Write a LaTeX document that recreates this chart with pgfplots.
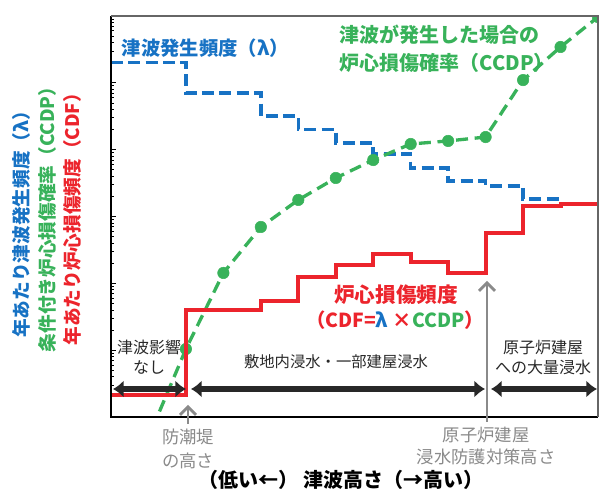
\documentclass[border=0pt]{standalone}
\usepackage{pgfplots}
\pgfplotsset{compat=1.18}
\usepackage{pgfplotstable}
\usepackage{fontspec}
\setmainfont{Noto Sans CJK JP}
\usetikzlibrary{arrows.meta}

\definecolor{lamblue}{RGB}{23,114,196}
\definecolor{ccdpgreen}{RGB}{56,178,90}
\definecolor{cdfred}{RGB}{236,36,44}
\definecolor{annodark}{RGB}{40,40,40}
\definecolor{annogray}{RGB}{138,138,138}

% tsunami frequency (lambda), stepwise per height bin
\pgfplotstableread{
x y
0  2.0e-1
2  7.0e-2
4  3.2e-2
5  2.0e-2
6  1.26e-2
7  8.6e-3
8  5.3e-3
9  3.4e-3
10 2.86e-3
11 1.83e-3
12 1.83e-3
12 1.55e-3
}\lambdadata

% core damage frequency (CDF)
\pgfplotstableread{
x y
0  2.13e-6
2  3.99e-5
4  5.43e-5
5  1.245e-4
6  1.88e-4
7  2.75e-4
8  2.08e-4
9  1.43e-4
10 5.66e-4
11 1.435e-3
12 1.54e-3
13 1.54e-3
}\cdfdata

% conditional core damage probability (CCDP), line
\pgfplotstableread{
x y
1.1 6.7e-7
2  1.04e-5
3  1.43e-4
4  6.97e-4
5  1.77e-3
6  3.77e-3
7  7.0e-3
8  1.216e-2
9  1.35e-2
10 1.545e-2
11 0.110
12 0.344
13 0.966
}\ccdpline

% CCDP evaluation points
\pgfplotstableread{
x y
2  1.04e-5
3  1.43e-4
4  6.97e-4
5  1.77e-3
6  3.77e-3
7  7.0e-3
8  1.216e-2
9  1.35e-2
10 1.545e-2
11 0.110
12 0.344
13 0.966
}\ccdppts

\begin{document}
\begin{tikzpicture}
\useasboundingbox (0,0) rectangle (450pt,369pt);

\begin{axis}[
  at={(83.25pt,56.25pt)}, anchor=south west,
  scale only axis, width=365.25pt, height=300.75pt,
  xmin=0, xmax=13,
  ymode=log, ymin=1e-6, ymax=1,
  axis line style={draw=none},
  xtick=\empty,
  ytick={1e-6,1e-5,1e-4,1e-3,1e-2,1e-1,1},
  yticklabels={},
  ytick pos=left, tick align=inside,
  major tick length=4pt, minor tick length=2.5pt,
  every tick/.style={black, line width=0.6pt},
  clip marker paths=true,
]
\addplot[const plot, lamblue, line width=2.6pt, dash pattern=on 9pt off 4pt]
  table[x=x,y=y] {\lambdadata};
\addplot[ccdpgreen, line width=2.5pt, dash pattern=on 9pt off 5pt]
  table[x=x,y=y] {\ccdpline};
\addplot[only marks, mark=*, mark size=4.3pt, color=ccdpgreen,
  mark options={fill=ccdpgreen, draw=ccdpgreen}]
  table[x=x,y=y] {\ccdppts};
\addplot[const plot, cdfred, line width=3pt]
  table[x=x,y=y] {\cdfdata};
\end{axis}

% frame
\draw[black, line width=1.1pt] (current axis.north west) -- (current axis.south west) -- (current axis.south east);
\draw[black!60, line width=1.1pt] (current axis.north west) -- (current axis.north east) -- (current axis.south east);

\begin{scope}[x=0.75pt,y=0.75pt]
% axis labels
\node[rotate=90, text=lamblue, font=\bfseries\fontsize{14}{16}\selectfont] at (21,272) {年あたり津波発生頻度（λ）};
\node[rotate=90, text=ccdpgreen, font=\bfseries\fontsize{14}{16}\selectfont] at (47,277) {条件付き炉心損傷確率（CCDP）};
\node[rotate=90, text=cdfred, font=\bfseries\fontsize{14}{16}\selectfont] at (72,277) {年あたり炉心損傷頻度（CDF）};
\node[font=\bfseries\fontsize{15}{18}\selectfont, text=black] at (341,12) {（低い←） 津波高さ（→高い）};

% series labels
\node[anchor=west, text=lamblue, font=\bfseries\fontsize{14.5}{16}\selectfont] at (117,444) {津波発生頻度（λ）};
\node[anchor=west, text=ccdpgreen, font=\bfseries\fontsize{15}{21}\selectfont] at (335,457) {津波が発生した場合の};
\node[anchor=west, text=ccdpgreen, font=\bfseries\fontsize{15}{21}\selectfont] at (335,429) {炉心損傷確率（CCDP）};
\node[text=cdfred, font=\bfseries\fontsize{15.5}{18}\selectfont] at (396,197) {炉心損傷頻度};
\node[text=cdfred, font=\bfseries\fontsize{14.5}{18}\selectfont] at (395,172) {（CDF=\textcolor{lamblue}{λ} ×\textcolor{ccdpgreen}{CCDP}）};

% region arrows
\tikzset{regarrow/.style={annodark, line width=5pt,
  {Latex[length=8pt,width=13pt]}-{Latex[length=8pt,width=13pt]}}}
\draw[regarrow] (113,103) -- (186,103);
\draw[regarrow] (191,103) -- (485,103);
\draw[regarrow] (491,103) -- (597,103);
\node[text=annodark, align=center, font=\fontsize{12}{15}\selectfont] at (149,135) {津波影響\\なし};
\node[text=annodark, font=\fontsize{11.5}{14}\selectfont] at (336,130) {敷地内浸水・一部建屋浸水};
\node[text=annodark, align=center, font=\fontsize{12}{15}\selectfont] at (543,135) {原子炉建屋\\への大量浸水};

% height markers
\draw[annogray, line width=2pt, -{Straight Barb[length=6pt,width=12pt]}] (188,68) -- (188,87);
\draw[annogray, line width=2pt, -{Straight Barb[length=6pt,width=12pt]}] (487,70) -- (487,211);
\node[text=annogray, align=center, font=\fontsize{13}{18}\selectfont] at (188,43) {防潮堤\\の高さ};
\node[text=annogray, align=center, font=\fontsize{13}{17}\selectfont] at (486,46) {原子炉建屋\\浸水防護対策高さ};
\end{scope}
\end{tikzpicture}
\end{document}
